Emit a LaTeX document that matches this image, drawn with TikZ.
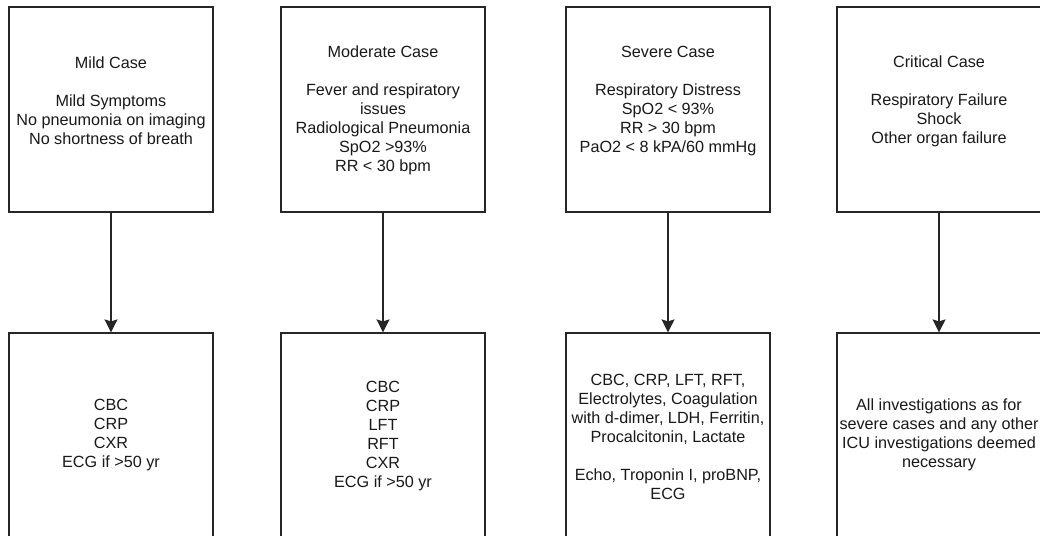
\documentclass[tikz,border=0pt]{standalone}
\usepackage{fontspec}
\setmainfont{Liberation Sans}
\usetikzlibrary{arrows.meta}

\begin{document}
\begin{tikzpicture}[x=1pt, y=-1pt,
  casebox/.style={draw=black!85, line width=1.2pt, rectangle,
    minimum width=204pt, minimum height=205pt, inner sep=0pt},
  boxtext/.style={align=center, inner sep=0pt, text=black!90,
    font=\fontsize{16.2}{19}\selectfont},
  flow/.style={draw=black!85, line width=1.2pt,
    -{Stealth[length=13pt, width=13pt, inset=2pt]}}
]
  \useasboundingbox (0,0) rectangle (1040,535);
  \clip (0,0) rectangle (1040,535);
  \fill[white] (0,0) rectangle (1040,535);

  % upper row: severity classes
  \node[casebox] (mild)     at (111,109.5) {};
  \node[casebox] (moderate) at (383,109.5) {};
  \node[casebox] (severe)   at (668,109.5) {};
  \node[casebox] (critical) at (939,109.5) {};

  % lower row: investigations
  \node[casebox] (mildinv)     at (111,435.5) {};
  \node[casebox] (moderateinv) at (383,435.5) {};
  \node[casebox] (severeinv)   at (668,435.5) {};
  \node[casebox] (criticalinv) at (939,435.5) {};

  % texts of the upper row
  \node[boxtext] (mildtxt) at (111,101)
    {Mild Case\\[19pt]Mild Symptoms\\No pneumonia on imaging\\No shortness of breath};
  \node[boxtext] (moderatetxt) at (383,110.5)
    {Moderate Case\\[19pt]Fever and respiratory\\issues\\Radiological Pneumonia\\SpO2 >93\%\\RR < 30 bpm};
  \node[boxtext] (severetxt) at (668,100.7)
    {Severe Case\\[19pt]Respiratory Distress\\SpO2 < 93\%\\RR > 30 bpm\\PaO2 < 8 kPA/60 mmHg};
  \node[boxtext] (criticaltxt) at (939,101)
    {Critical Case\\[19pt]Respiratory Failure\\Shock\\Other organ failure};

  % texts of the lower row
  \node[boxtext] (mildinvtxt) at (111,435)
    {CBC\\CRP\\CXR\\ECG if >50 yr};
  \node[boxtext] (moderateinvtxt) at (383,435.7)
    {CBC\\CRP\\LFT\\RFT\\CXR\\ECG if >50 yr};
  \node[boxtext] (severeinvtxt) at (668,437)
    {CBC, CRP, LFT, RFT,\\Electrolytes, Coagulation\\with d-dimer, LDH, Ferritin,\\Procalcitonin, Lactate\\[19pt]Echo, Troponin I, proBNP,\\ECG};
  \node[boxtext] (criticalinvtxt) at (939,435)
    {All investigations as for\\severe cases and any other\\ICU investigations deemed\\necessary};

  % connectors
  \draw[flow] (mild.south)     -- (mildinv.north);
  \draw[flow] (moderate.south) -- (moderateinv.north);
  \draw[flow] (severe.south)   -- (severeinv.north);
  \draw[flow] (critical.south) -- (criticalinv.north);
\end{tikzpicture}
\end{document}
